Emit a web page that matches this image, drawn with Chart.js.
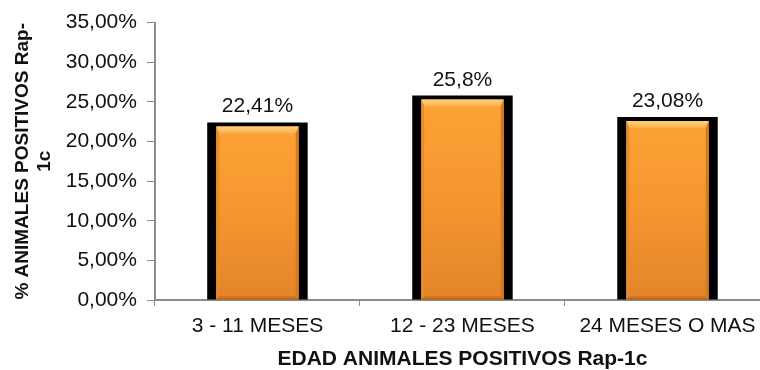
<!DOCTYPE html>
<html>
<head>
<meta charset="utf-8">
<script src="https://cdn.jsdelivr.net/npm/chart.js@4/dist/chart.umd.min.js"></script>
<style>
  html, body { margin: 0; padding: 0; background: #fff; overflow: hidden; }
  #wrap { position: relative; width: 780px; height: 370px; }
</style>
</head>
<body>
<div id="wrap"><canvas id="c" width="780" height="370"></canvas></div>
<script>
// Age groups and share of Rap-1c positive animals (%)
const categories = ['3 - 11 MESES', '12 - 23 MESES', '24 MESES O MAS'];
const positivePct = [22.41, 25.8, 23.08];
const yTicks = [0, 5, 10, 15, 20, 25, 30, 35];

const FONT = "'Liberation Sans', Arial, sans-serif";
const fmtTick = v => v.toFixed(2).replace('.', ',') + '%';
const fmtLabel = v => String(v).replace('.', ',') + '%';

// Bevelled orange face inside each bar's black frame
const bevelPlugin = {
  id: 'bevel',
  afterDatasetsDraw(chart) {
    const ctx = chart.ctx;
    const meta = chart.getDatasetMeta(0);
    meta.data.forEach(bar => {
      const { x, y, base, width } = bar.getProps(['x', 'y', 'base', 'width'], true);
      const l = x - width / 2 + 9, r = x + width / 2 - 9, t = y + 4, b = base;
      const w = r - l, h = b - t;
      ctx.save();
      // main face
      const g = ctx.createLinearGradient(0, t, 0, b);
      g.addColorStop(0, '#FDA236');
      g.addColorStop(0.5, '#F5962F');
      g.addColorStop(1, '#E3842A');
      ctx.fillStyle = g;
      ctx.fillRect(l, t, w, h);
      // top bevel (light)
      const tb = 7, sb = 3;
      const tg = ctx.createLinearGradient(0, t, 0, t + tb);
      tg.addColorStop(0, '#FFD27A');
      tg.addColorStop(1, '#FDB04A');
      ctx.fillStyle = tg;
      ctx.beginPath();
      ctx.moveTo(l, t); ctx.lineTo(r, t); ctx.lineTo(r - sb, t + tb); ctx.lineTo(l + sb, t + tb); ctx.closePath();
      ctx.fill();
      // left bevel
      ctx.fillStyle = '#E98A2C';
      ctx.beginPath();
      ctx.moveTo(l, t); ctx.lineTo(l + sb, t + tb); ctx.lineTo(l + sb, b - sb); ctx.lineTo(l, b); ctx.closePath();
      ctx.fill();
      // right bevel
      ctx.fillStyle = '#D67920';
      ctx.beginPath();
      ctx.moveTo(r, t); ctx.lineTo(r - sb, t + tb); ctx.lineTo(r - sb, b - sb); ctx.lineTo(r, b); ctx.closePath();
      ctx.fill();
      // bottom bevel
      ctx.fillStyle = '#C86E1C';
      ctx.beginPath();
      ctx.moveTo(l, b); ctx.lineTo(l + sb, b - sb); ctx.lineTo(r - sb, b - sb); ctx.lineTo(r, b); ctx.closePath();
      ctx.fill();
      ctx.restore();
    });
  }
};

// Value labels above the bars
const valueLabels = {
  id: 'valueLabels',
  afterDatasetsDraw(chart) {
    const ctx = chart.ctx;
    const meta = chart.getDatasetMeta(0);
    ctx.save();
    ctx.font = '21px ' + FONT;
    ctx.fillStyle = '#111';
    ctx.textAlign = 'center';
    ctx.textBaseline = 'alphabetic';
    meta.data.forEach((bar, i) => {
      ctx.fillText(fmtLabel(positivePct[i]), bar.x, bar.y - 10);
    });
    ctx.restore();
  }
};

new Chart(document.getElementById('c'), {
  type: 'bar',
  data: {
    labels: categories,
    datasets: [{
      data: positivePct,
      backgroundColor: '#000',
      borderWidth: 0,
      categoryPercentage: 1,
      barPercentage: 0.49
    }]
  },
  options: {
    responsive: false,
    animation: false,
    layout: { padding: { top: 10, right: 10, left: 12, bottom: 0 } },
    plugins: { legend: { display: false }, tooltip: { enabled: false } },
    scales: {
      x: {
        z: 1,
        grid: { display: true, drawOnChartArea: false, drawTicks: true, tickLength: 6, color: '#8c8c8c', offset: true },
        border: { display: true, color: '#8c8c8c', width: 2 },
        ticks: { color: '#111', font: { family: FONT, size: 21, lineHeight: 1.0 }, padding: 10, maxRotation: 0 },
        title: { display: true, text: 'EDAD ANIMALES POSITIVOS Rap-1c', color: '#111',
                 font: { family: FONT, size: 21, weight: 'bold', lineHeight: 1.0 }, padding: { top: 2, bottom: 0 } }
      },
      y: {
        min: 0, max: 35,
        afterBuildTicks: axis => { axis.ticks = yTicks.map(v => ({ value: v })); },
        grid: { display: true, drawOnChartArea: false, drawTicks: true, tickLength: 8, color: '#8c8c8c' },
        border: { display: true, color: '#8c8c8c', width: 2 },
        ticks: { color: '#111', font: { family: FONT, size: 21 }, padding: 10, callback: v => fmtTick(v) },
        title: { display: true, text: ['% ANIMALES POSITIVOS Rap-', '1c'], color: '#111',
                 font: { family: FONT, size: 19, weight: 'bold', lineHeight: 1.15 }, padding: { top: 0, bottom: 0 } }
      }
    }
  },
  plugins: [bevelPlugin, valueLabels]
});
</script>
</body>
</html>
